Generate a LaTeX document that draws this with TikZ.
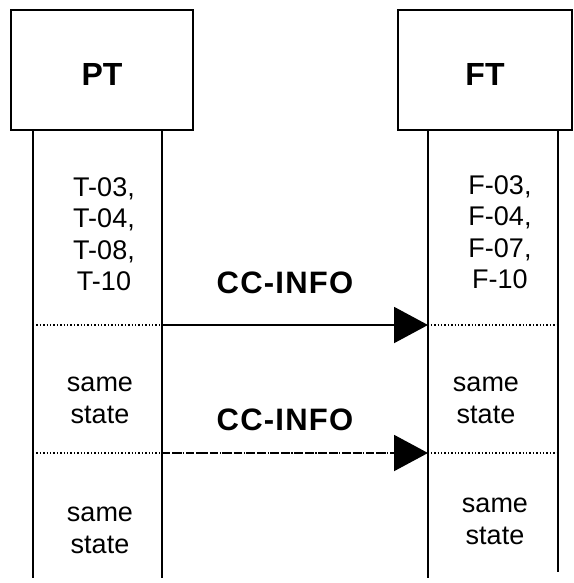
\documentclass[tikz,border=0pt]{standalone}
\usepackage{fontspec}
\setmainfont{Liberation Sans}
\newfontfamily\msgfont[LetterSpace=4]{Liberation Sans}
\usetikzlibrary{arrows.meta}

\begin{document}
\begin{tikzpicture}[x=1pt,y=-1pt,>={Triangle[length=34pt,width=36pt]},
		box/.style={draw,line width=1.8pt,minimum width=#1,minimum height=120pt,text height=32pt,text depth=0pt,inner sep=0pt,font=\fontsize{32}{36}\selectfont\bfseries},
		lab/.style={anchor=north,align=center,inner sep=0pt,font=\fontsize{27}{31.5}\selectfont},
		msg/.style={anchor=base,inner sep=0pt,font=\msgfont\fontsize{31}{36}\selectfont\bfseries}]
			\useasboundingbox (0,0) rectangle (573,583);
			\node[box=182pt] (PT) at (102,70) {PT};
			\node[box=174pt] (FT) at (485,70) {FT};
			\path
			(33,130) coordinate (A) (33,578) coordinate (A')
			(162,130) coordinate (B) (162,578) coordinate (B')
			(428,130) coordinate (C) (428,578) coordinate (C')
			(558,130) coordinate (D) (558,572) coordinate (D')
			(33,325) coordinate (L1) (558,325) coordinate (R1)
			(33,453) coordinate (L2) (558,453) coordinate (R2);
			\foreach \x in {A,B,C,D} \draw[line width=2pt] (\x)--(\x');
			\foreach \y in {1,2} \draw[line width=1.4pt,dash pattern=on 1.4pt off 2pt] (L\y)--(R\y);
			\draw[->,line width=2pt] (B|-L1)--(C|-L1);
			\draw[->,line width=2pt,dash pattern=on 8pt off 4pt] (B|-L2)--(C|-L2);
			\node[lab] (T) at (104,177) {T-03,\\T-04,\\T-08,\\T-10};
			\node[lab] (F) at (500,175) {F-03,\\F-04,\\F-07,\\F-10};
			\node[lab] (S1) at (100,377) {same\\state};
			\node[lab] (S2) at (486,377) {same\\state};
			\node[lab] (S3) at (100,507) {same\\state};
			\node[lab] (S4) at (495,498) {same\\state};
			\node[msg] (M1) at (285,293) {CC-INFO};
			\node[msg] (M2) at (285,430) {CC-INFO};
		\end{tikzpicture}
\end{document}
